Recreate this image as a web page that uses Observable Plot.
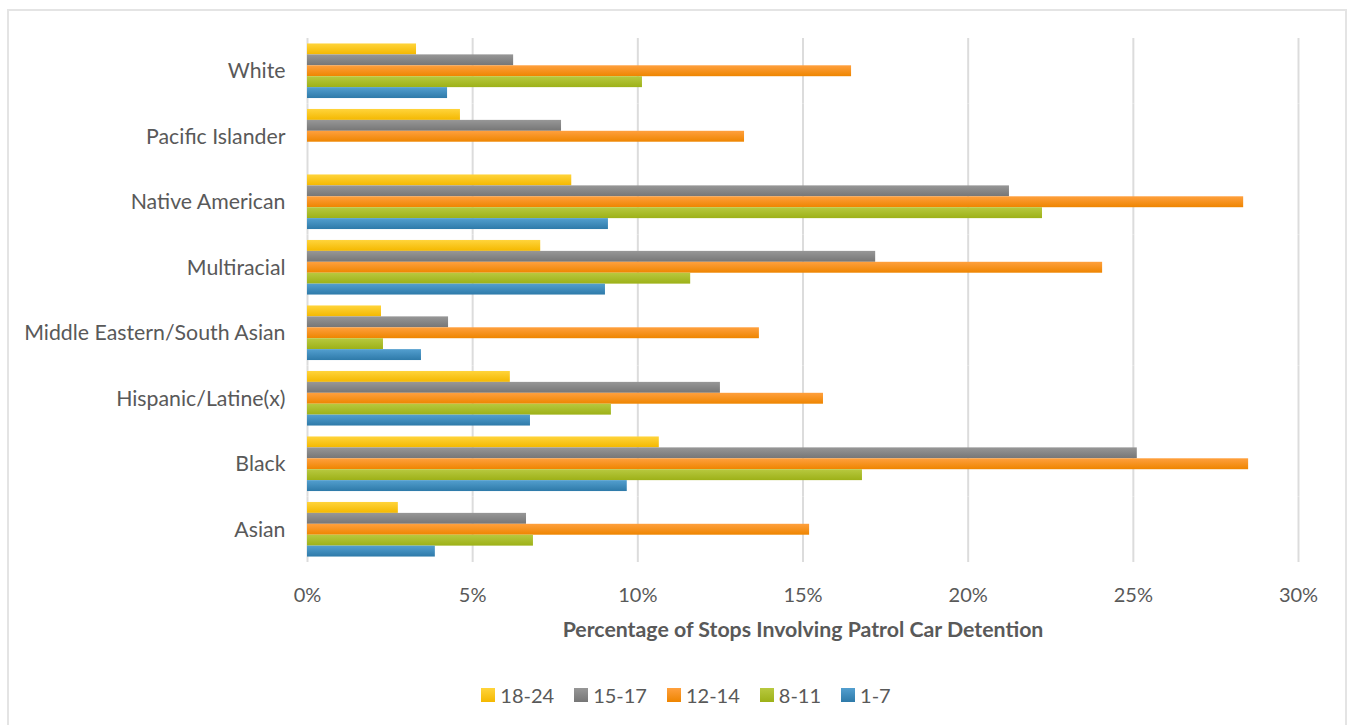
<!DOCTYPE html>
<html><head><meta charset="utf-8">
<script src="https://cdn.jsdelivr.net/npm/d3@7"></script>
<script src="https://cdn.jsdelivr.net/npm/@observablehq/plot@0.6"></script>
<style>
html,body{margin:0;padding:0;overflow:hidden;background:#fff;}
body{width:1348px;height:725px;position:relative;font-family:Lato,"Open Sans",sans-serif;}
#frame{position:absolute;left:7px;top:9px;width:1340px;height:760px;border:2px solid #e4e4e4;border-bottom:none;box-sizing:border-box;}
#chart{position:absolute;left:0;top:0;}
#legend{position:absolute;left:32px;width:1308px;top:683px;display:flex;justify-content:center;gap:20px;font:20px Lato,sans-serif;color:#595959;}
.item{display:flex;align-items:center;gap:5px;}
.sw{width:14px;height:14px;display:inline-block;}
g[aria-label="x-axis label"] text{font-weight:bold;}
</style></head>
<body>
<svg width="0" height="0" style="position:absolute">
<defs>
<linearGradient id="g1824" x1="0" y1="0" x2="0" y2="1"><stop offset="0" stop-color="#ffd43b"/><stop offset="1" stop-color="#f4b800"/></linearGradient>
<linearGradient id="g1517" x1="0" y1="0" x2="0" y2="1"><stop offset="0" stop-color="#979797"/><stop offset="1" stop-color="#767676"/></linearGradient>
<linearGradient id="g1214" x1="0" y1="0" x2="0" y2="1"><stop offset="0" stop-color="#ffa03e"/><stop offset="1" stop-color="#ee8500"/></linearGradient>
<linearGradient id="g811" x1="0" y1="0" x2="0" y2="1"><stop offset="0" stop-color="#b8c93f"/><stop offset="1" stop-color="#9db118"/></linearGradient>
<linearGradient id="g17" x1="0" y1="0" x2="0" y2="1"><stop offset="0" stop-color="#539fcf"/><stop offset="1" stop-color="#2e7aa9"/></linearGradient>
</defs></svg>
<div id="frame"></div>
<div id="chart"></div>
<div id="legend"></div>
<script>
// Categories in source order (bottom to top in the chart)
const categories = ["Asian","Black","Hispanic/Latine(x)","Middle Eastern/South Asian","Multiracial","Native American","Pacific Islander","White"];
// Age-group series (percent of stops involving patrol car detention)
const age18_24 = [2.75, 10.65, 6.14, 2.24, 7.06, 8.00, 4.63, 3.30];
const age15_17 = [6.63, 25.12, 12.50, 4.27, 17.20, 21.25, 7.69, 6.24];
const age12_14 = [15.20, 28.49, 15.62, 13.68, 24.07, 28.34, 13.23, 16.47];
const age8_11  = [6.84, 16.80, 9.20, 2.30, 11.60, 22.25, null, 10.14];
const age1_7   = [3.87, 9.68, 6.75, 3.45, 9.02, 9.11, null, 4.24];
const seriesNames = ["18-24","15-17","12-14","8-11","1-7"];
const xTicks = [0, 5, 10, 15, 20, 25, 30];
const xTitle = "Percentage of Stops Involving Patrol Car Detention";

const seriesFills = ["url(#g1824)","url(#g1517)","url(#g1214)","url(#g811)","url(#g17)"];
const swatchCss = ["linear-gradient(#ffd43b,#f4b800)","linear-gradient(#979797,#767676)","linear-gradient(#ffa03e,#ee8500)","linear-gradient(#b8c93f,#9db118)","linear-gradient(#539fcf,#2e7aa9)"];

const seriesValues = [age18_24, age15_17, age12_14, age8_11, age1_7];
const rows = [];
categories.forEach((c, i) => seriesNames.forEach((s, j) => {
  const v = seriesValues[j][i];
  if (v != null) rows.push({category: c, series: s, value: v});
}));

const chart = Plot.plot({
  width: 1348, height: 650,
  marginTop: 38, marginBottom: 88, marginLeft: 307, marginRight: 50,
  style: {fontFamily: "Lato, sans-serif", fontSize: "20px", color: "#595959", background: "transparent", overflow: "visible"},
  x: {domain: [0, 30]},
  fy: {domain: categories.slice().reverse(), padding: 0, round: false, label: null},
  y: {domain: seriesNames, paddingInner: 0, paddingOuter: 0.5, round: false, axis: null},
  color: {domain: seriesNames, range: seriesFills, legend: false},
  marks: [
    Plot.gridX(xTicks, {stroke: "#dcdcdc", strokeOpacity: 1, strokeWidth: 2}),
    Plot.barX(rows, {x: "value", y: "series", fy: "category", fill: "series"}),
    Plot.axisFy({anchor: "left", tickSize: 0, tickPadding: 22, fontSize: 21.3, label: null}),
    Plot.axisX(xTicks, {anchor: "bottom", tickFormat: d => d + "%", tickSize: 0, tickPadding: 25, fontSize: 20,
      label: xTitle, labelAnchor: "center", labelArrow: "none", labelOffset: 74})
  ]
});
document.getElementById("chart").appendChild(chart);
chart.querySelectorAll('g[aria-label="x-axis label"] text').forEach(t => t.setAttribute("font-size", "21.3"));

const legend = document.getElementById("legend");
seriesNames.forEach((s, j) => {
  const it = document.createElement("div");
  it.className = "item";
  const sw = document.createElement("span");
  sw.className = "sw";
  sw.style.background = swatchCss[j];
  const t = document.createElement("span");
  t.textContent = s;
  it.appendChild(sw); it.appendChild(t);
  legend.appendChild(it);
});
</script>
</body></html>
